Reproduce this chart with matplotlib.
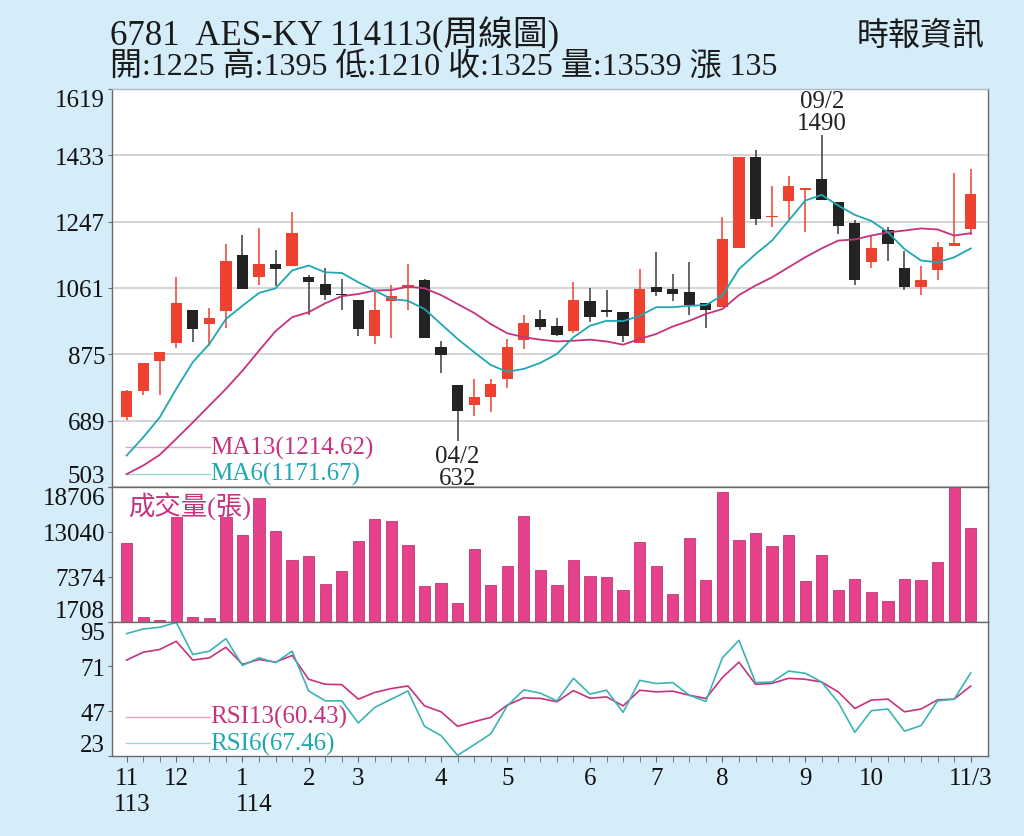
import numpy as np
import matplotlib
matplotlib.use("Agg")
import matplotlib.pyplot as plt

plt.rcParams['font.family'] = ['Liberation Serif', 'Noto Sans CJK TC']

# weekly OHLC
opens = [700, 772, 857, 906, 999, 959, 997, 1154, 1093, 1128, 1124, 1093, 1072, 1042,
         1028, 925, 1025, 1062, 1082, 896, 789, 733, 754, 806, 916, 974, 953, 939, 1024,
         997, 995, 907, 1063, 1058, 1049, 1018, 1007, 1174, 1427, 1259, 1304, 1336, 1367,
         1301, 1242, 1133, 1224, 1117, 1065, 1110, 1180, 1225]
highs = [775, 850, 881, 1093, 999, 1004, 1183, 1210, 1228, 1168, 1273, 1097, 1117, 1086,
         1028, 1053, 1068, 1128, 1086, 911, 789, 806, 806, 918, 985, 1000, 978, 1079, 1062,
         1054, 995, 1114, 1163, 1099, 1133, 1018, 1259, 1427, 1448, 1348, 1374, 1339, 1490,
         1301, 1252, 1206, 1233, 1166, 1124, 1191, 1383, 1395]
lows = [691, 761, 761, 892, 909, 899, 950, 1058, 1068, 1066, 1124, 985, 1028, 1000,
        926, 905, 921, 1000, 920, 822, 632, 703, 712, 781, 890, 944, 926, 934, 965,
        981, 909, 907, 1038, 1024, 986, 948, 1007, 1174, 1238, 1233, 1254, 1217, 1309,
        1212, 1068, 1117, 1138, 1054, 1040, 1083, 1180, 1210]
closes = [772, 850, 881, 1019, 946, 978, 1138, 1058, 1128, 1114, 1214, 1079, 1040, 1040,
          946, 999, 1038, 1068, 922, 874, 717, 754, 792, 895, 962, 951, 930, 1028, 981,
          995, 925, 1058, 1049, 1044, 1014, 1000, 1197, 1427, 1254, 1263, 1347, 1339, 1309,
          1234, 1083, 1172, 1184, 1065, 1082, 1177, 1187, 1325]
volumes = [11640, 2263, 1923, 14883, 2263, 2137, 14883, 12687, 17281, 13192, 9495, 10038,
           6466, 8144, 11930, 14669, 14455, 11425, 6251, 6592, 4030, 10845, 6340, 8775,
           15047, 8270, 6340, 9532, 7438, 7311, 5709, 11804, 8775, 5204, 12271, 7008,
           18114, 12019, 12902, 11299, 12687, 6844, 10163, 5671, 7097, 5418, 4282, 7097,
           6933, 9204, 18870, 13539]
ma13 = [539, 563, 593, 638, 684, 731, 778, 829, 885, 940, 979, 993, 1018, 1038, 1044,
        1054, 1055, 1065, 1060, 1041, 1016, 991, 960, 934, 923, 916, 911, 913, 916, 911,
        902, 918, 932, 953, 969, 988, 1002, 1041, 1068, 1091, 1119, 1147, 1172, 1194,
        1197, 1208, 1217, 1222, 1228, 1225, 1208, 1214.62]
ma6 = [591, 642, 698, 778, 853, 904, 974, 1011, 1047, 1060, 1110, 1124, 1105, 1103, 1077,
       1054, 1030, 1025, 1002, 960, 918, 881, 845, 826, 834, 851, 876, 923, 955, 969, 968,
       983, 1007, 1007, 1011, 1013, 1040, 1114, 1156, 1194, 1250, 1306, 1322, 1292, 1266,
       1249, 1217, 1170, 1138, 1133, 1147, 1171.67]
rsi13 = [74.4, 78.6, 80.1, 84.5, 74.4, 75.6, 81.3, 72.1, 74.7, 73.3, 76.9, 64.1, 61.4,
         61.2, 53.4, 57.0, 59.1, 60.5, 49.8, 46.6, 38.8, 41.3, 43.6, 50.2, 54.1, 53.8,
         52.0, 58.0, 53.9, 54.6, 49.8, 58.2, 57.3, 57.7, 55.5, 53.8, 65.0, 73.3, 61.4,
         61.9, 64.6, 64.1, 62.6, 57.3, 48.4, 52.9, 53.4, 46.6, 48.1, 53.0, 53.4, 60.43]
rsi6 = [88.6, 91.1, 92.0, 94.6, 77.4, 79.2, 85.9, 71.5, 75.6, 73.0, 79.2, 57.8, 52.5,
        52.5, 40.6, 49.0, 53.4, 57.8, 38.8, 33.8, 23.2, 28.9, 34.7, 49.8, 58.4, 56.6,
        52.5, 64.6, 56.1, 58.2, 46.3, 63.5, 61.8, 62.3, 55.5, 52.2, 75.6, 85.0, 62.3,
        62.6, 68.5, 67.3, 62.6, 51.6, 35.6, 47.2, 48.1, 36.2, 39.2, 52.5, 53.4, 67.46]

price_ticks = [503, 689, 875, 1061, 1247, 1433, 1619]
vol_ticks = [1708, 7374, 13040, 18706]
rsi_ticks = [23, 47, 71, 95]
month_pos = [0, 3, 7, 11, 14, 19, 23, 28, 32, 36, 41, 45, 51]
month_lbl = ['11', '12', '1', '2', '3', '4', '5', '6', '7', '8', '9', '10', '11/3']
year_pos = [0, 7]
year_lbl = ['113', '114']
low_date, high_date = '04/2', '09/2'

BG = '#d5ecf9'
RED = '#ef4130'
BLACK = '#232323'
MA13C = '#c8327c'
MA6C = '#1fa8b2'
PINK = '#e6418b'
GRID = '#c9c9c9'
SPINE = '#6a6a6a'

opens, highs, lows, closes = map(np.array, (opens, highs, lows, closes))
n = len(closes)
x = np.arange(n)

fig = plt.figure(figsize=(10.24, 8.37), dpi=100, facecolor=BG)
L, W = 0.1094, 0.8555
ax1 = fig.add_axes([L, 0.4170, W, 0.4755])
ax2 = fig.add_axes([L, 0.2560, W, 0.1610], sharex=ax1)
ax3 = fig.add_axes([L, 0.0959, W, 0.1601], sharex=ax1)

# --- price panel
up = closes >= opens
body_col = np.where(up, RED, BLACK)
wick_col = np.where(up, RED, '#3a3a3a')
ax1.vlines(x, lows, highs, colors=wick_col, lw=1.1, zorder=2)
ax1.bar(x, np.maximum(np.abs(closes - opens), 4), bottom=np.minimum(opens, closes),
        width=0.68, color=body_col, zorder=3)
ax1.plot(x, ma13, color=MA13C, lw=1.3, zorder=4)
ax1.plot(x, ma6, color=MA6C, lw=1.3, zorder=4)
ax1.set_ylim(503, 1619)
ax1.set_yticks(price_ticks)
ax1.grid(axis='y', color=GRID, lw=1.1)
ax1.set_axisbelow(True)

for yy, txt, c in [(0.1005, f'MA13({ma13[-1]:.2f})', MA13C),
                   (0.033, f'MA6({ma6[-1]:.2f})', MA6C)]:
    ax1.plot([0.016, 0.112], [yy, yy], transform=ax1.transAxes, color=c, lw=1, alpha=0.45)
    ax1.text(0.112, yy, txt, transform=ax1.transAxes, color=c, fontsize=18,
             ha='left', va='center')

lo_i = int(np.argmin(lows))
hi_i = int(np.argmax(highs))
ax1.annotate(f'{low_date}\n{lows[lo_i]}', xy=(lo_i, lows[lo_i]), xytext=(0, -3),
             textcoords='offset points', ha='center', va='top', fontsize=18,
             linespacing=1.0, color='#222222')
ax1.annotate(f'{high_date}\n{highs[hi_i]}', xy=(hi_i, highs[hi_i]), xytext=(0, 1),
             textcoords='offset points', ha='center', va='bottom', fontsize=18,
             linespacing=1.0, color='#222222')

# --- volume panel
ax2.bar(x, volumes, width=0.68, color=PINK, edgecolor='#c23676', lw=0.6)
ax2.set_ylim(1708, 18706)
ax2.set_yticks(vol_ticks)
ax2.text(0.018, 0.86, '成交量(張)', transform=ax2.transAxes, color=MA13C,
         fontsize=19, ha='left', va='center')

# --- RSI panel
ax3.plot(x, rsi13, color=MA13C, lw=1.2)
ax3.plot(x, rsi6, color='#3cb3b6', lw=1.2)
ax3.set_ylim(23, 95)
ax3.set_yticks(rsi_ticks)
for yy, txt, c in [(0.291, f'RSI13({rsi13[-1]:.2f})', MA13C),
                   (0.095, f'RSI6({rsi6[-1]:.2f})', MA6C)]:
    ax3.plot([0.016, 0.112], [yy, yy], transform=ax3.transAxes, color=c, lw=1, alpha=0.45)
    ax3.text(0.112, yy, txt, transform=ax3.transAxes, color=c, fontsize=18,
             ha='left', va='center')

ax3.set_xlim(-0.88, 52.05)
ax3.set_xticks(month_pos)
ax3.set_xticklabels(month_lbl)
ax3.set_xticks(x, minor=True)
ax3.tick_params(axis='x', which='both', direction='out', length=4, color=SPINE)
ax3.tick_params(axis='x', which='major', labelsize=18, pad=4, labelcolor='#111111')
for p, t in zip(year_pos, year_lbl):
    m = month_lbl[month_pos.index(p)]
    ax3.annotate(t, xy=(p, 0), xycoords=('data', 'axes fraction'),
                 xytext=(-len(m) * 4.6, -27), textcoords='offset points',
                 ha='left', va='top', fontsize=18, color='#111111')

for ax in (ax1, ax2):
    ax.tick_params(axis='x', which='both', bottom=False, labelbottom=False)

for ax in (ax1, ax2, ax3):
    ax.set_facecolor('white')
    ax.tick_params(axis='y', direction='out', length=3, labelsize=18, pad=2,
                   color=SPINE, labelcolor='#111111')
    for s in ax.spines.values():
        s.set_color(SPINE)
        s.set_linewidth(1.0)
    lbls = ax.get_yticklabels()
    lbls[0].set_va('bottom')
    lbls[-1].set_va('top')
ax1.spines['top'].set_color('#b8b8b8')

# --- header
fig.text(0.107, 0.958, '6781  AES-KY 114113(周線圖)', fontsize=25, ha='left',
         va='center', color='#1a1a1a')
fig.text(0.107, 0.919, '開:1225 高:1395 低:1210 收:1325 量:13539 漲 135', fontsize=23,
         ha='left', va='center', color='#1a1a1a')
fig.text(0.962, 0.956, '時報資訊', fontsize=23, ha='right', va='center', color='#1a1a1a')

fig.savefig('out.png', dpi=100, facecolor=BG)
